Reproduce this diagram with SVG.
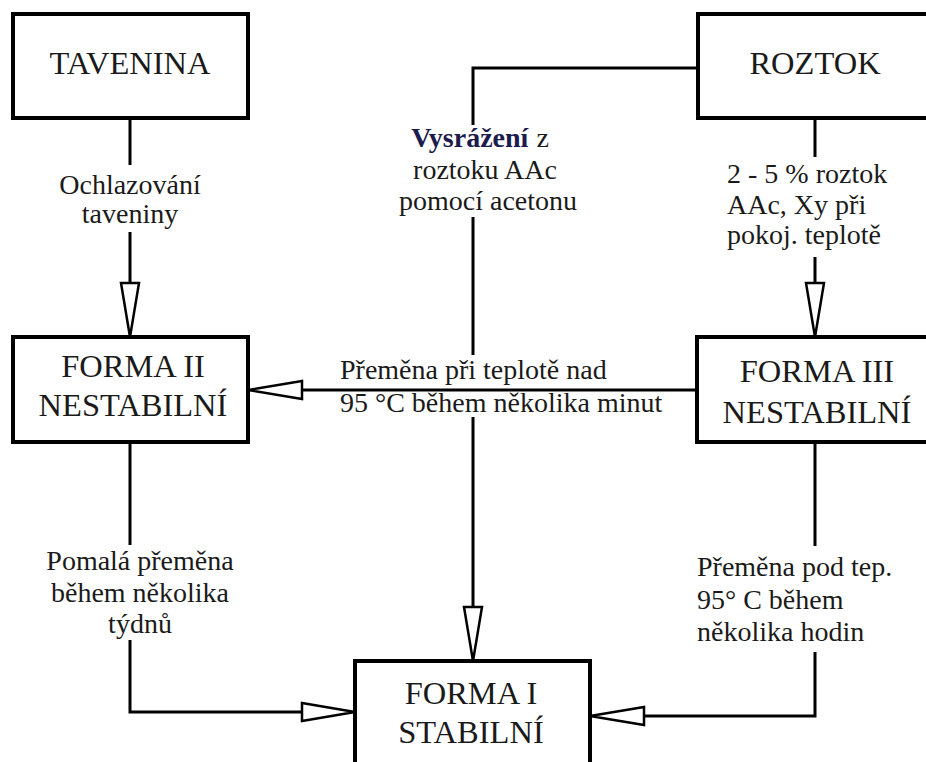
<svg xmlns="http://www.w3.org/2000/svg" width="926" height="762" viewBox="0 0 926 762">
<style>
.box{fill:#fff;stroke:#000;stroke-width:4}
.bt{font-size:32.5px;fill:#1a1a1a;text-anchor:middle}
.lb{font-size:28px;fill:#1a1a1a}
.c{text-anchor:middle}
.ln{fill:none;stroke:#000;stroke-width:3}
.ah{fill:#fff;stroke:#000;stroke-width:2.5;stroke-linejoin:miter}
</style>
<rect width="926" height="762" fill="#fff"/>
<g id="connectors">
<path class="ln" d="M130,118V165M130,232V283"/>
<polygon class="ah" points="121,283 139,283 130,337"/>
<path class="ln" d="M815,118V157M815,257V283"/>
<polygon class="ah" points="806,283 824,283 815,337"/>
<path class="ln" d="M698,68H473V125M473,217V355M473,417V607"/>
<polygon class="ah" points="464,607 482,607 473,661"/>
<path class="ln" d="M697,390H302"/>
<polygon class="ah" points="302,381 302,399 248,390"/>
<path class="ln" d="M130,442V545M130,640V712H302"/>
<polygon class="ah" points="302,703 302,721 355,712"/>
<path class="ln" d="M815,442V546M815,652V716H644"/>
<polygon class="ah" points="644,707 644,725 590,716"/>
</g>
<g font-family="Liberation Serif, Tinos, Times New Roman, DejaVu Serif, serif">
<g id="tavenina">
<rect class="box" x="13" y="14" width="235" height="104"/>
<text class="bt" x="130" y="74">TAVENINA</text>
</g>
<g id="roztok">
<rect class="box" x="698" y="14" width="240" height="104"/>
<text class="bt" x="815" y="74">ROZTOK</text>
</g>
<g id="forma2">
<rect class="box" x="13" y="337" width="235" height="105"/>
<text class="bt" x="133" y="377">FORMA II</text>
<text class="bt" x="133" y="416">NESTABILNÍ</text>
</g>
<g id="forma3">
<rect class="box" x="697" y="337" width="240" height="105"/>
<text class="bt" x="817" y="382">FORMA III</text>
<text class="bt" x="817" y="423">NESTABILNÍ</text>
</g>
<g id="forma1">
<rect class="box" x="355" y="661" width="235" height="110"/>
<text class="bt" x="471" y="704">FORMA I</text>
<text class="bt" x="471" y="743">STABILNÍ</text>
</g>
<g id="labels">
<text class="lb c" x="130" y="194">Ochlazování</text>
<text class="lb c" x="130" y="223">taveniny</text>
<text class="lb c" x="480" y="147"><tspan font-weight="bold" fill="#1b1b4d">Vysrážení</tspan><tspan dx="8">z</tspan></text>
<text class="lb c" x="485" y="179">roztoku AAc</text>
<text class="lb c" x="488" y="210">pomocí acetonu</text>
<text class="lb" x="727" y="183">2 - 5 % roztok</text>
<text class="lb" x="727" y="214">AAc, Xy při</text>
<text class="lb" x="727" y="244">pokoj. teplotě</text>
<text class="lb" x="340" y="379">Přeměna při teplotě nad</text>
<text class="lb" x="340" y="412">95 °C během několika minut</text>
<text class="lb c" x="140" y="570">Pomalá přeměna</text>
<text class="lb c" x="140" y="602">během několika</text>
<text class="lb c" x="140" y="633">týdnů</text>
<text class="lb" x="697" y="576">Přeměna pod tep.</text>
<text class="lb" x="697" y="609">95° C během</text>
<text class="lb" x="697" y="641">několika hodin</text>
</g>
</g>
</svg>
